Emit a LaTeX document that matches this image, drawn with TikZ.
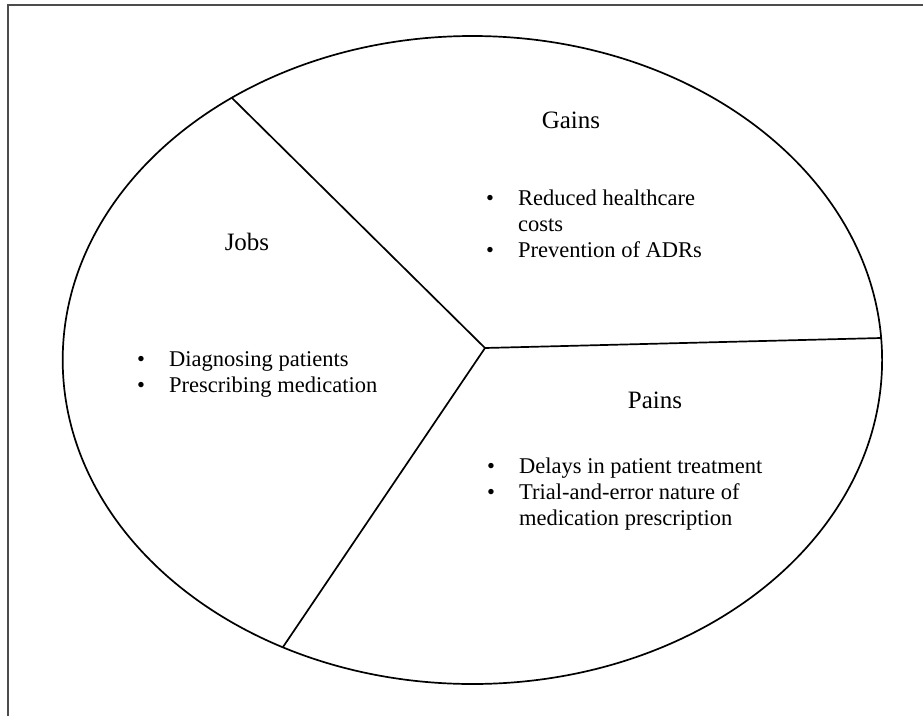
\documentclass[tikz,border=0pt]{standalone}
\usepackage{fontspec}
\setmainfont{Liberation Serif}
\begin{document}
\begin{tikzpicture}[x=1pt,y=-1pt,
  outline/.style={line width=1.7pt,draw=black},
  frameline/.style={line width=1.3pt,draw=black!70},
  head/.style={inner sep=0pt,anchor=base,font=\fontsize{25}{30}\selectfont},
  item/.style={inner sep=0pt,anchor=base west,font=\fontsize{22.5}{26}\selectfont}]
\useasboundingbox (0,0) rectangle (923,715);
% frame (cut at right and bottom)
\draw[frameline] (8,716) -- (8,5) -- (924,5);
% ellipse and spokes
\draw[outline] (472.4,360) ellipse [x radius=409.7, y radius=324];
\coordinate (hub) at (485,348);
\coordinate (ptl) at (232,98);
\coordinate (pbot) at (283,647);
\coordinate (pright) at (881.2,338);
\draw[outline] (hub) -- (ptl);
\draw[outline] (hub) -- (pbot);
\draw[outline] (hub) -- (pright);
% headings
\node[head] (gains) at (571,128) {Gains};
\node[head] (jobs) at (247,250) {Jobs};
\node[head] (pains) at (655,408) {Pains};
% Gains list
\node[item] (g1) at (486,205) {\makebox[32pt][l]{•}Reduced healthcare};
\node[item] (g2) at (486,231) {\makebox[32pt][l]{}costs};
\node[item] (g3) at (486,257) {\makebox[32pt][l]{•}Prevention of ADRs};
% Jobs list
\node[item] (j1) at (137,366) {\makebox[32pt][l]{•}Diagnosing patients};
\node[item] (j2) at (137,392) {\makebox[32pt][l]{•}Prescribing medication};
% Pains list
\node[item] (p1) at (487,473) {\makebox[32pt][l]{•}Delays in patient treatment};
\node[item] (p2) at (487,499) {\makebox[32pt][l]{•}Trial-and-error nature of};
\node[item] (p3) at (487,525) {\makebox[32pt][l]{}medication prescription};
\end{tikzpicture}
\end{document}
